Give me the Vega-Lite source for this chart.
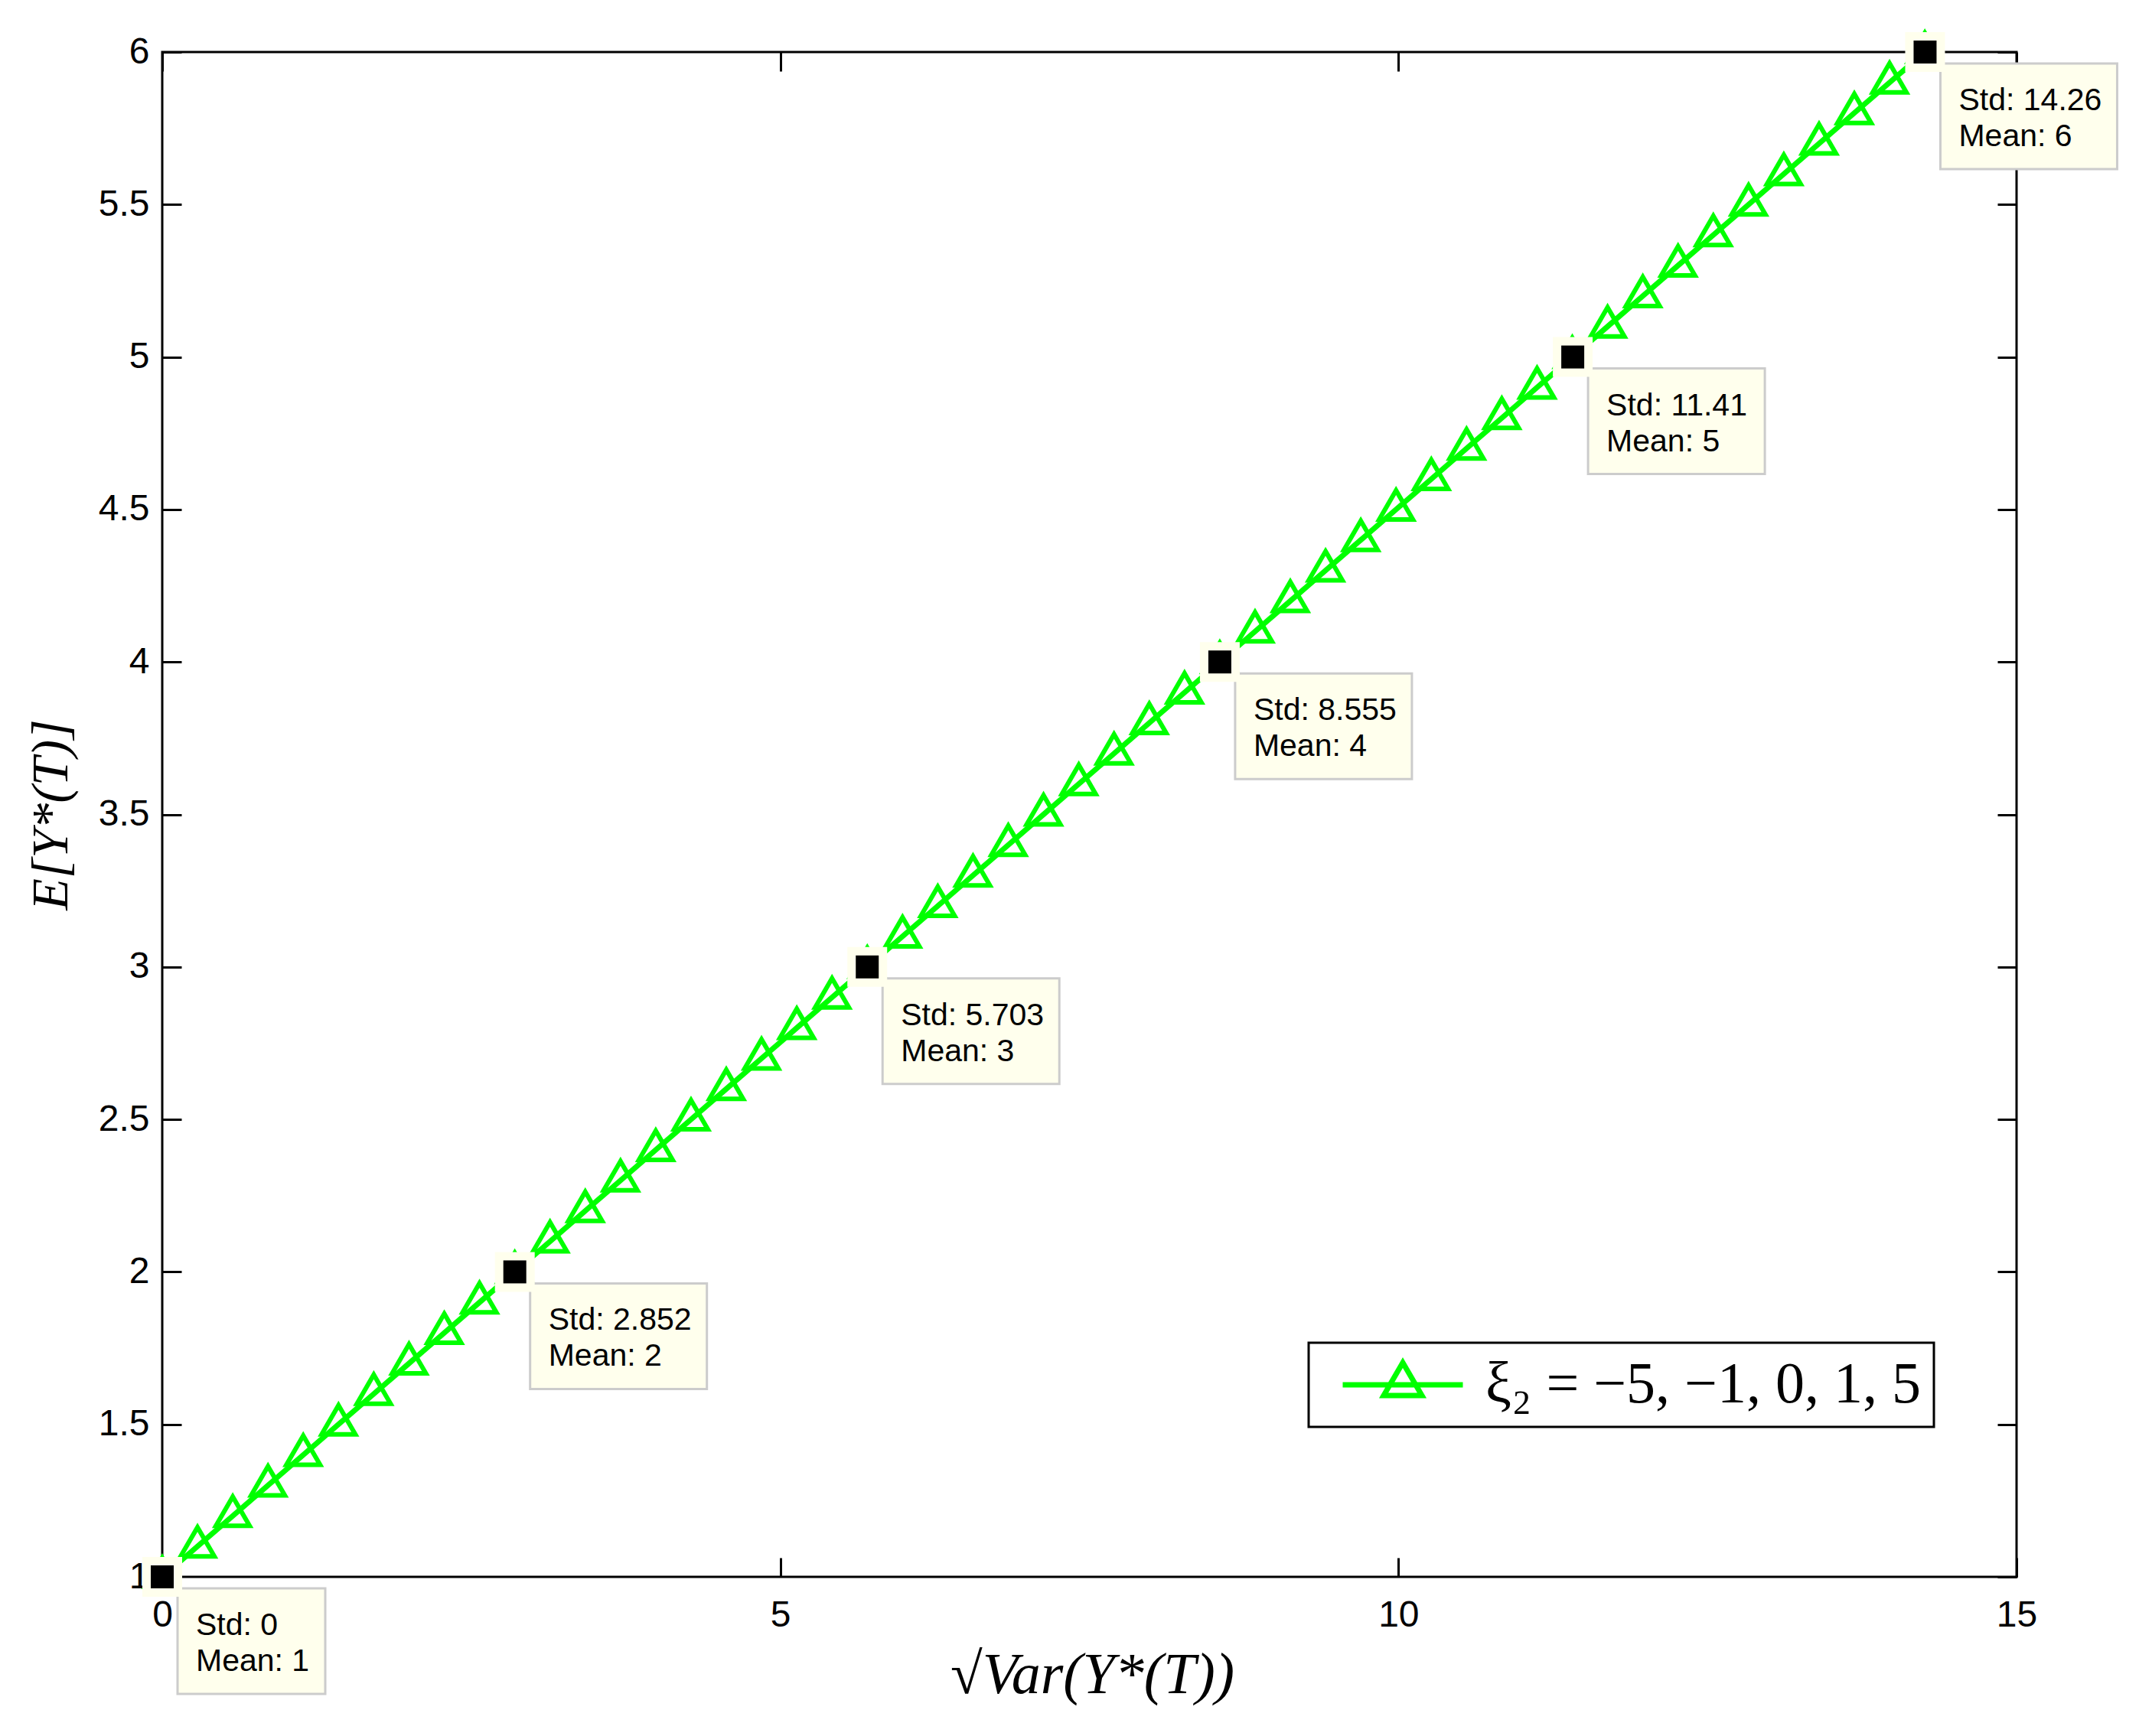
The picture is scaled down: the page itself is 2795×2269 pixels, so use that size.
{
  "$schema": "https://vega.github.io/schema/vega-lite/v6.json",
  "width": 2423,
  "height": 1993,
  "autosize": {"type": "none"},
  "padding": {"left": 212, "top": 68, "right": 160, "bottom": 208},
  "background": "white",
  "config": {
    "view": {"stroke": "black", "strokeWidth": 3},
    "axis": {
      "grid": false, "domain": false, "tickColor": "black", "tickWidth": 3, "tickSize": -25,
      "labelFont": "Liberation Sans", "labelFontSize": 48, "labelColor": "black",
      "labelFlush": false, "labelOverlap": false,
      "titleColor": "black", "titleFont": "Liberation Serif", "titleFontStyle": "italic", "titleFontWeight": "normal"
    },
    "legend": {"strokeWidth": 3}
  },
  "datasets": {
    "curve": [
      {"std": 0, "mean": 1.0, "series": "ξ₂ = −5, −1, 0, 1, 5"},
      {"std": 0.2852, "mean": 1.1, "series": "ξ₂ = −5, −1, 0, 1, 5"},
      {"std": 0.5703, "mean": 1.2, "series": "ξ₂ = −5, −1, 0, 1, 5"},
      {"std": 0.8555, "mean": 1.3, "series": "ξ₂ = −5, −1, 0, 1, 5"},
      {"std": 1.1406, "mean": 1.4, "series": "ξ₂ = −5, −1, 0, 1, 5"},
      {"std": 1.4258, "mean": 1.5, "series": "ξ₂ = −5, −1, 0, 1, 5"},
      {"std": 1.7110, "mean": 1.6, "series": "ξ₂ = −5, −1, 0, 1, 5"},
      {"std": 1.9961, "mean": 1.7, "series": "ξ₂ = −5, −1, 0, 1, 5"},
      {"std": 2.2813, "mean": 1.8, "series": "ξ₂ = −5, −1, 0, 1, 5"},
      {"std": 2.5664, "mean": 1.9, "series": "ξ₂ = −5, −1, 0, 1, 5"},
      {"std": 2.8516, "mean": 2.0, "series": "ξ₂ = −5, −1, 0, 1, 5"},
      {"std": 3.1368, "mean": 2.1, "series": "ξ₂ = −5, −1, 0, 1, 5"},
      {"std": 3.4219, "mean": 2.2, "series": "ξ₂ = −5, −1, 0, 1, 5"},
      {"std": 3.7071, "mean": 2.3, "series": "ξ₂ = −5, −1, 0, 1, 5"},
      {"std": 3.9922, "mean": 2.4, "series": "ξ₂ = −5, −1, 0, 1, 5"},
      {"std": 4.2774, "mean": 2.5, "series": "ξ₂ = −5, −1, 0, 1, 5"},
      {"std": 4.5626, "mean": 2.6, "series": "ξ₂ = −5, −1, 0, 1, 5"},
      {"std": 4.8477, "mean": 2.7, "series": "ξ₂ = −5, −1, 0, 1, 5"},
      {"std": 5.1329, "mean": 2.8, "series": "ξ₂ = −5, −1, 0, 1, 5"},
      {"std": 5.4180, "mean": 2.9, "series": "ξ₂ = −5, −1, 0, 1, 5"},
      {"std": 5.7032, "mean": 3.0, "series": "ξ₂ = −5, −1, 0, 1, 5"},
      {"std": 5.9884, "mean": 3.1, "series": "ξ₂ = −5, −1, 0, 1, 5"},
      {"std": 6.2735, "mean": 3.2, "series": "ξ₂ = −5, −1, 0, 1, 5"},
      {"std": 6.5587, "mean": 3.3, "series": "ξ₂ = −5, −1, 0, 1, 5"},
      {"std": 6.8438, "mean": 3.4, "series": "ξ₂ = −5, −1, 0, 1, 5"},
      {"std": 7.1290, "mean": 3.5, "series": "ξ₂ = −5, −1, 0, 1, 5"},
      {"std": 7.4142, "mean": 3.6, "series": "ξ₂ = −5, −1, 0, 1, 5"},
      {"std": 7.6993, "mean": 3.7, "series": "ξ₂ = −5, −1, 0, 1, 5"},
      {"std": 7.9845, "mean": 3.8, "series": "ξ₂ = −5, −1, 0, 1, 5"},
      {"std": 8.2696, "mean": 3.9, "series": "ξ₂ = −5, −1, 0, 1, 5"},
      {"std": 8.5548, "mean": 4.0, "series": "ξ₂ = −5, −1, 0, 1, 5"},
      {"std": 8.8400, "mean": 4.1, "series": "ξ₂ = −5, −1, 0, 1, 5"},
      {"std": 9.1251, "mean": 4.2, "series": "ξ₂ = −5, −1, 0, 1, 5"},
      {"std": 9.4103, "mean": 4.3, "series": "ξ₂ = −5, −1, 0, 1, 5"},
      {"std": 9.6954, "mean": 4.4, "series": "ξ₂ = −5, −1, 0, 1, 5"},
      {"std": 9.9806, "mean": 4.5, "series": "ξ₂ = −5, −1, 0, 1, 5"},
      {"std": 10.2658, "mean": 4.6, "series": "ξ₂ = −5, −1, 0, 1, 5"},
      {"std": 10.5509, "mean": 4.7, "series": "ξ₂ = −5, −1, 0, 1, 5"},
      {"std": 10.8361, "mean": 4.8, "series": "ξ₂ = −5, −1, 0, 1, 5"},
      {"std": 11.1212, "mean": 4.9, "series": "ξ₂ = −5, −1, 0, 1, 5"},
      {"std": 11.4064, "mean": 5.0, "series": "ξ₂ = −5, −1, 0, 1, 5"},
      {"std": 11.6916, "mean": 5.1, "series": "ξ₂ = −5, −1, 0, 1, 5"},
      {"std": 11.9767, "mean": 5.2, "series": "ξ₂ = −5, −1, 0, 1, 5"},
      {"std": 12.2619, "mean": 5.3, "series": "ξ₂ = −5, −1, 0, 1, 5"},
      {"std": 12.5470, "mean": 5.4, "series": "ξ₂ = −5, −1, 0, 1, 5"},
      {"std": 12.8322, "mean": 5.5, "series": "ξ₂ = −5, −1, 0, 1, 5"},
      {"std": 13.1174, "mean": 5.6, "series": "ξ₂ = −5, −1, 0, 1, 5"},
      {"std": 13.4025, "mean": 5.7, "series": "ξ₂ = −5, −1, 0, 1, 5"},
      {"std": 13.6877, "mean": 5.8, "series": "ξ₂ = −5, −1, 0, 1, 5"},
      {"std": 13.9728, "mean": 5.9, "series": "ξ₂ = −5, −1, 0, 1, 5"},
      {"std": 14.2580, "mean": 6.0, "series": "ξ₂ = −5, −1, 0, 1, 5"}
    ],
    "tips": [
      {"std": 0, "mean": 1, "tip1": "Std: 0", "tip2": "Mean: 1"},
      {"std": 2.852, "mean": 2, "tip1": "Std: 2.852", "tip2": "Mean: 2"},
      {"std": 5.703, "mean": 3, "tip1": "Std: 5.703", "tip2": "Mean: 3"},
      {"std": 8.555, "mean": 4, "tip1": "Std: 8.555", "tip2": "Mean: 4"},
      {"std": 11.41, "mean": 5, "tip1": "Std: 11.41", "tip2": "Mean: 5"},
      {"std": 14.26, "mean": 6, "tip1": "Std: 14.26", "tip2": "Mean: 6"}
    ]
  },
  "resolve": {"axis": {"x": "independent", "y": "independent"}},
  "layer": [
    {
      "data": {"name": "curve"},
      "mark": {"type": "line", "strokeWidth": 7},
      "encoding": {
        "x": {"field": "std", "type": "quantitative", "scale": {"domain": [0, 15], "nice": false, "zero": false},
          "axis": {"orient": "bottom", "values": [0, 5, 10, 15], "labelPadding": 51,
            "title": "√Var(Y*(T))", "titleFontSize": 76, "titleX": 1215, "titleY": 151,
            "titleBaseline": "alphabetic", "titleAlign": "center"}},
        "y": {"field": "mean", "type": "quantitative", "scale": {"domain": [1, 6], "nice": false, "zero": false},
          "axis": {"orient": "left", "values": [1, 1.5, 2, 2.5, 3, 3.5, 4, 4.5, 5, 5.5, 6], "format": "~g", "labelPadding": 42,
            "title": "E[Y*(T)]", "titleFontSize": 68, "titleX": -145, "titleY": 996.5, "titleAngle": 270,
            "titleBaseline": "middle", "titleAlign": "center"}},
        "color": {"field": "series", "type": "nominal", "scale": {"range": ["#00ff00"]},
          "legend": {"title": null, "orient": "none", "legendX": 1498, "legendY": 1687,
            "symbolType": "M-3.14,0H3.14M0,-1.16L1,0.56L-1,0.56Z", "symbolSize": 2500,
            "symbolStrokeWidth": 7, "symbolFillColor": "transparent", "symbolStrokeColor": "#00ff00",
            "symbolOffset": 68, "labelOffset": 70, "padding": 17,
            "strokeColor": "black", "fillColor": "white",
            "labelFont": "Liberation Serif", "labelFontSize": 76, "labelColor": "black", "labelLimit": 1000}}
      }
    },
    {
      "data": {"name": "curve"},
      "mark": {"type": "point", "shape": "M0,-25L22,13L-22,13Z", "size": 4, "filled": false, "color": "#00ff00", "strokeWidth": 6, "opacity": 1},
      "encoding": {
        "x": {"field": "std", "type": "quantitative", "axis": {"orient": "top", "values": [0, 5, 10, 15], "labels": false, "title": null}},
        "y": {"field": "mean", "type": "quantitative", "axis": {"orient": "right", "values": [1, 1.5, 2, 2.5, 3, 3.5, 4, 4.5, 5, 5.5, 6], "labels": false, "title": null}}
      }
    },
    {
      "data": {"name": "tips"},
      "transform": [{"filter": "datum.mean > 1"}],
      "mark": {"type": "point", "shape": "M20,15H251V153H20Z", "size": 4, "filled": true, "fill": "#ffffed", "stroke": "#cccccc", "strokeWidth": 3, "opacity": 1},
      "encoding": {
        "x": {"field": "std", "type": "quantitative", "axis": null},
        "y": {"field": "mean", "type": "quantitative", "axis": null}
      }
    },
    {
      "data": {"name": "tips"},
      "transform": [{"filter": "datum.mean == 1"}],
      "mark": {"type": "point", "shape": "M20,15H213V153H20Z", "size": 4, "filled": true, "fill": "#ffffed", "stroke": "#cccccc", "strokeWidth": 3, "opacity": 1},
      "encoding": {
        "x": {"field": "std", "type": "quantitative", "axis": null},
        "y": {"field": "mean", "type": "quantitative", "axis": null}
      }
    },
    {
      "data": {"name": "tips"},
      "mark": {"type": "point", "shape": "square", "size": 2704, "filled": true, "fill": "#ffffed", "strokeWidth": 0, "opacity": 1},
      "encoding": {
        "x": {"field": "std", "type": "quantitative", "axis": null},
        "y": {"field": "mean", "type": "quantitative", "axis": null}
      }
    },
    {
      "data": {"name": "tips"},
      "mark": {"type": "point", "shape": "square", "size": 900, "filled": true, "fill": "black", "strokeWidth": 0, "opacity": 1},
      "encoding": {
        "x": {"field": "std", "type": "quantitative", "axis": null},
        "y": {"field": "mean", "type": "quantitative", "axis": null}
      }
    },
    {
      "data": {"name": "tips"},
      "mark": {"type": "text", "align": "left", "baseline": "alphabetic", "dx": 44, "dy": 76, "font": "Liberation Sans", "fontSize": 41, "color": "black"},
      "encoding": {
        "x": {"field": "std", "type": "quantitative", "axis": null},
        "y": {"field": "mean", "type": "quantitative", "axis": null},
        "text": {"field": "tip1"}
      }
    },
    {
      "data": {"name": "tips"},
      "mark": {"type": "text", "align": "left", "baseline": "alphabetic", "dx": 44, "dy": 123, "font": "Liberation Sans", "fontSize": 41, "color": "black"},
      "encoding": {
        "x": {"field": "std", "type": "quantitative", "axis": null},
        "y": {"field": "mean", "type": "quantitative", "axis": null},
        "text": {"field": "tip2"}
      }
    }
  ]
}
